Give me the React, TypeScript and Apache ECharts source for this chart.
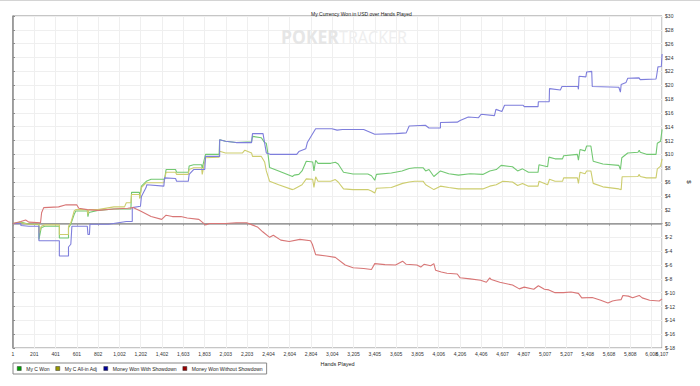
import React, { useEffect, useRef } from "react";
import * as echarts from "echarts";

// ---------- data ----------
const chartTitle = "My Currency Won in USD over Hands Played";
const totalHands = 6107;
const xTickLabels = [
  "1", "201", "401", "601", "802", "1,002", "1,202", "1,402", "1,603", "1,803",
  "2,003", "2,203", "2,404", "2,604", "2,804", "3,004", "3,205", "3,405", "3,605", "3,805",
  "4,006", "4,206", "4,406", "4,607", "4,807", "5,007", "5,207", "5,408", "5,608", "5,808",
  "6,008",
];
const lastTickLabel = "6,107";
const yMin = -18;
const yMax = 30;
const yStep = 2;

const seriesNames = [
  "My C Won",
  "My C All-in Adj",
  "Money Won With Showdown",
  "Money Won Without Showdown",
];

// [hand, dollars]
const myCWon: [number, number][] = [
  [1, 0], [75, 0.2], [150, -0.1], [245, -0.15], [245, -2.3], [267, -0.6], [300, -0.4], [437, -0.4],
  [437, -2.1], [523, -2.1], [523, -0.6], [545, -0.1], [576, 1.3], [592, 1.8], [700, 1.8], [706, 1.0],
  [715, 1.6], [800, 1.9], [950, 2.1], [1110, 2.1], [1116, 4.5], [1190, 4.5], [1194, 3.7], [1209, 5.4],
  [1255, 6.1], [1300, 6.4], [1420, 6.4], [1426, 6.3], [1441, 7.8], [1530, 7.8], [1540, 7.4], [1650, 7.4],
  [1658, 8.3], [1700, 8.5], [1775, 8.5], [1781, 8.0], [1812, 10.0], [1940, 10.0], [1945, 12.1], [2000, 11.9],
  [2100, 11.7], [2245, 11.8], [2254, 12.6], [2337, 12.4], [2368, 11.7], [2384, 11.6], [2400, 10.0], [2415, 8.1],
  [2500, 7.6], [2630, 6.8], [2646, 7.0], [2690, 7.1], [2720, 7.6], [2760, 9.0], [2820, 8.9], [2832, 7.6],
  [2848, 9.15], [2870, 8.7], [2990, 8.7], [3033, 8.85], [3060, 8.6], [3110, 7.4], [3200, 7.15], [3339, 7.15],
  [3373, 6.9], [3404, 6.25], [3420, 7.1], [3560, 7.3], [3660, 7.6], [3728, 7.95], [3780, 8.05], [3860, 8.05],
  [3883, 7.6], [3914, 7.8], [3960, 6.8], [4022, 7.6], [4100, 7.2], [4192, 7.0], [4300, 7.2], [4420, 7.1],
  [4486, 7.6], [4547, 7.8], [4593, 8.4], [4700, 8.2], [4748, 7.6], [4794, 7.9], [4850, 7.4], [4940, 7.4],
  [4949, 8.5], [5030, 8.2], [5042, 9.6], [5100, 9.35], [5170, 9.35], [5181, 9.8], [5310, 10.0], [5320, 9.15],
  [5335, 10.7], [5382, 10.5], [5397, 11.2], [5437, 11.2], [5459, 9.0], [5550, 8.6], [5700, 8.4], [5715, 7.8],
  [5728, 9.5], [5784, 10.2], [5880, 10.3], [5892, 10.6], [5901, 10.3], [5960, 10.0], [6050, 10.0], [6062, 11.6],
  [6093, 11.9], [6107, 13.6],
];

const myCAllInAdj: [number, number][] = [
  [1, 0], [75, 0.1], [150, -0.1], [245, -0.1], [245, -1.4], [267, -0.4], [300, -0.2], [437, -0.2],
  [437, -1.6], [523, -1.6], [523, -0.4], [545, 0.1], [576, 1.8], [592, 2.0], [700, 2.0], [706, 1.3],
  [715, 2.0], [800, 2.0], [950, 2.4], [1050, 2.4], [1067, 3.0], [1110, 3.0], [1116, 4.2], [1190, 4.2],
  [1194, 3.6], [1209, 5.2], [1255, 5.9], [1420, 5.9], [1441, 7.4], [1530, 7.4], [1540, 7.1], [1650, 7.1],
  [1658, 7.8], [1700, 8.05], [1775, 8.05], [1781, 7.1], [1812, 9.5], [1940, 9.6], [1945, 10.45], [2000, 10.2],
  [2160, 10.2], [2182, 10.6], [2245, 10.2], [2254, 9.7], [2337, 9.7], [2368, 8.9], [2384, 7.6], [2415, 6.1],
  [2500, 5.6], [2630, 4.9], [2646, 5.0], [2720, 5.6], [2760, 6.45], [2820, 6.4], [2832, 5.2], [2848, 6.75],
  [2870, 6.1], [2990, 6.1], [3033, 6.35], [3060, 6.0], [3110, 5.0], [3200, 4.9], [3339, 4.9], [3373, 4.7],
  [3404, 4.4], [3420, 5.1], [3560, 5.2], [3666, 5.8], [3728, 6.0], [3780, 6.1], [3860, 6.1], [3883, 5.6],
  [3960, 4.9], [4022, 5.4], [4100, 5.2], [4192, 5.0], [4300, 5.0], [4420, 5.0], [4486, 5.4], [4547, 5.6],
  [4609, 6.1], [4700, 6.0], [4748, 5.5], [4794, 5.8], [4850, 5.4], [4940, 5.4], [4949, 6.1], [5030, 5.6],
  [5048, 6.4], [5100, 6.1], [5170, 6.1], [5181, 6.6], [5310, 6.6], [5320, 5.8], [5335, 7.4], [5382, 7.2],
  [5397, 7.6], [5437, 7.6], [5459, 5.8], [5550, 5.3], [5700, 5.0], [5722, 4.9], [5731, 6.75], [5880, 6.8],
  [5892, 7.1], [5901, 6.8], [5960, 6.6], [6050, 6.6], [6062, 7.9], [6093, 8.3], [6107, 9.35],
];

const wonWithShowdown: [number, number][] = [
  [1, 0], [75, 0], [75, -0.3], [150, -0.4], [245, -0.4], [245, -2.5], [437, -2.5], [437, -4.7],
  [523, -4.7], [523, -3.4], [545, -3.0], [555, -0.4], [700, -0.4], [706, -1.6], [720, -1.6], [725, -0.1],
  [900, -0.1], [1067, 0.3], [1123, 0.3], [1123, 2.3], [1200, 2.5], [1209, 3.9], [1253, 5.2], [1260, 5.6],
  [1420, 5.4], [1426, 6.6], [1530, 6.5], [1540, 6.1], [1650, 6.1], [1658, 7.1], [1700, 7.8], [1805, 7.8],
  [1812, 9.7], [1945, 9.7], [1945, 12.1], [2000, 11.9], [2100, 11.7], [2245, 11.7], [2254, 13.0], [2353, 13.0],
  [2384, 10.2], [2420, 10.0], [2670, 10.0], [2690, 10.4], [2755, 10.8], [2771, 11.75], [2848, 13.7], [3000, 13.7],
  [3050, 13.5], [3100, 13.6], [3300, 13.6], [3404, 12.9], [3600, 13.0], [3700, 13.1], [3728, 14.1], [3880, 14.2],
  [3914, 13.8], [4022, 13.8], [4022, 14.6], [4180, 14.65], [4207, 14.9], [4284, 15.4], [4380, 15.3], [4405, 15.8],
  [4530, 15.6], [4544, 16.5], [4600, 16.2], [4625, 17.1], [4800, 17.1], [4810, 16.9], [4940, 16.9], [4943, 17.6],
  [5045, 17.6], [5048, 19.5], [5150, 19.3], [5165, 19.8], [5315, 19.8], [5320, 19.4], [5326, 21.3], [5390, 21.2],
  [5397, 21.9], [5445, 22.0], [5450, 19.8], [5700, 19.7], [5715, 19.0], [5722, 20.1], [5768, 20.4], [5784, 21.0],
  [5890, 21.05], [5901, 20.8], [6050, 20.9], [6056, 21.4], [6068, 22.65], [6100, 22.7], [6107, 24.5],
];

const wonWithoutShowdown: [number, number][] = [
  [1, 0], [75, 0.3], [120, 0.5], [150, 0.2], [260, 0.1], [270, 1.55], [290, 2.3], [430, 2.4],
  [500, 2.7], [600, 2.7], [620, 2.2], [700, 2.0], [800, 1.9], [950, 2.1], [1080, 2.2], [1130, 2.3],
  [1200, 1.8], [1300, 1.0], [1400, 0.6], [1441, 1.2], [1500, 1.0], [1580, 1.0], [1640, 0.8], [1750, 0.6],
  [1812, -0.2], [1850, 0.0], [2000, 0.0], [2100, 0.1], [2200, 0.1], [2250, -0.2], [2300, -0.5], [2350, -1.2],
  [2415, -2.0], [2450, -1.7], [2520, -2.4], [2600, -2.6], [2700, -2.3], [2800, -2.5], [2817, -3.0], [2848, -4.5],
  [2950, -4.7], [3033, -4.9], [3126, -6.0], [3200, -6.4], [3300, -6.5], [3373, -6.65], [3404, -5.8], [3500, -5.95],
  [3600, -6.0], [3666, -5.45], [3700, -5.9], [3800, -6.0], [3837, -6.3], [3867, -5.9], [3930, -6.1], [3960, -5.8],
  [3976, -6.75], [4030, -7.0], [4083, -7.2], [4180, -7.3], [4207, -7.85], [4300, -8.0], [4400, -8.2], [4454, -8.5],
  [4486, -7.85], [4500, -8.1], [4580, -8.5], [4700, -8.9], [4764, -9.45], [4810, -9.2], [4900, -9.5], [4943, -9.0],
  [5000, -9.5], [5042, -9.6], [5100, -10.0], [5180, -10.0], [5250, -9.9], [5320, -10.1], [5351, -10.75], [5450, -10.7],
  [5530, -11.1], [5598, -11.5], [5640, -11.2], [5675, -11.1], [5722, -11.0], [5738, -10.4], [5790, -10.5], [5830, -10.75],
  [5892, -10.4], [5920, -10.75], [5990, -11.1], [6080, -11.2], [6107, -10.9],
];

const lineColors = ["#72c872", "#cdcd6e", "#7e7edc", "#d87676"];
const legendColors = ["#00a000", "#999900", "#000099", "#990000"];

export default function App() {
  const ref = useRef<HTMLDivElement>(null);

  useEffect(() => {
    if (!ref.current) return;
    const chart = echarts.init(ref.current, null, { renderer: "svg" });
    const xMax = totalHands - 1; // axis counts hands from 0 (= hand 1)
    const xStep = (6008 - 1) / (xTickLabels.length - 1);
    const font = "'Liberation Sans', Arial, sans-serif";
    const all = [myCWon, myCAllInAdj, wonWithShowdown, wonWithoutShowdown];

    const series: any[] = all.map((d, i) => ({
      name: seriesNames[i],
      type: "line",
      xAxisIndex: 0,
      data: d.map(([h, v]) => [h - 1, v]),
      showSymbol: false,
      symbol: "none",
      lineStyle: { color: lineColors[i], width: 1.1 },
      itemStyle: { color: legendColors[i] },
      z: 3 + i,
      ...(i === 0
        ? {
            markLine: {
              silent: true,
              symbol: ["none", "none"],
              label: { show: false },
              lineStyle: { color: "#a0a0a0", width: 1.6, type: "solid" },
              data: [{ yAxis: 0 }],
              z: 2,
            },
          }
        : {}),
    }));

    chart.setOption({
      animation: false,
      backgroundColor: "#ffffff",
      textStyle: { fontFamily: font },
      title: {
        text: chartTitle,
        left: 306,
        top: 6,
        textStyle: { fontSize: 5, fontWeight: "normal", color: "#222", fontFamily: font },
      },
      graphic: [
        { type: "rect", left: 0, top: 0, shape: { width: 700, height: 1 }, style: { fill: "#d4d4d4" }, silent: true },
        {
          type: "text", x: 281, y: 27, scaleX: 0.92, silent: true, z: 1,
          style: { text: "POKER", fill: "#e6e6e6", font: "bold 19px 'Open Sans', sans-serif", verticalAlign: "top" },
        },
        {
          type: "text", x: 339, y: 27, scaleX: 0.85, silent: true, z: 1,
          style: { text: "TRACKER", fill: "#eeeeee", font: "19px 'Open Sans', sans-serif", verticalAlign: "top" },
        },
      ],
      legend: {
        left: 13,
        top: 363,
        orient: "horizontal",
        icon: "rect",
        itemWidth: 4,
        itemHeight: 4,
        itemGap: 6,
        padding: [3, 4, 3, 4],
        borderColor: "#888",
        borderWidth: 1,
        backgroundColor: "#fff",
        itemStyle: { borderColor: "#333", borderWidth: 0.5 },
        textStyle: { fontSize: 5, color: "#222", fontFamily: font },
        data: seriesNames.map((n, i) => ({ name: n, itemStyle: { color: legendColors[i] } })),
      },
      grid: {
        left: 13,
        right: 28,
        top: 16,
        bottom: 38,
        show: true,
        borderColor: "#8c8c8c",
        borderWidth: 1,
        backgroundColor: "#fff",
      },
      xAxis: [
        {
          type: "value",
          min: 0,
          max: xMax,
          interval: xStep,
          position: "bottom",
          name: "Hands Played",
          nameLocation: "middle",
          nameGap: 10,
          nameTextStyle: { fontSize: 5.5, color: "#222", fontFamily: font },
          axisLine: { show: true, lineStyle: { color: "#8c8c8c", width: 1 } },
          axisTick: { show: true, length: 2, lineStyle: { color: "#8c8c8c" } },
          axisLabel: {
            fontSize: 5,
            color: "#333",
            margin: 3,
            showMaxLabel: false,
            formatter: (v: number) => {
              const idx = Math.round(v / xStep);
              return xTickLabels[idx] ?? "";
            },
          },
          splitLine: { show: true, lineStyle: { color: "#efefef", width: 1 } },
        },
        {
          type: "value",
          min: 0,
          max: xMax,
          interval: xMax,
          position: "bottom",
          axisLine: { show: false },
          axisTick: { show: false },
          splitLine: { show: false },
          axisLabel: {
            fontSize: 5,
            color: "#333",
            margin: 3,
            showMinLabel: false,
            formatter: (v: number) => (v >= xMax ? lastTickLabel : ""),
          },
        },
      ],
      yAxis: {
        type: "value",
        position: "right",
        min: yMin,
        max: yMax,
        interval: yStep,
        name: "$",
        nameLocation: "middle",
        nameGap: 17,
        nameRotate: -90,
        nameTextStyle: { fontSize: 6, color: "#222", fontFamily: font },
        axisLine: { show: true, lineStyle: { color: "#8c8c8c", width: 1.5 } },
        axisTick: { show: true, length: 2, lineStyle: { color: "#8c8c8c" } },
        axisLabel: {
          fontSize: 5,
          color: "#333",
          margin: 3,
          formatter: (v: number) => "$" + v,
        },
        splitLine: { show: true, lineStyle: { color: "#efefef", width: 1 } },
      },
      series,
    });

    return () => chart.dispose();
  }, []);

  return (
    <div
      ref={ref}
      style={{ position: "fixed", left: 0, top: 0, width: 700, height: 386, background: "#fff" }}
    />
  );
}
